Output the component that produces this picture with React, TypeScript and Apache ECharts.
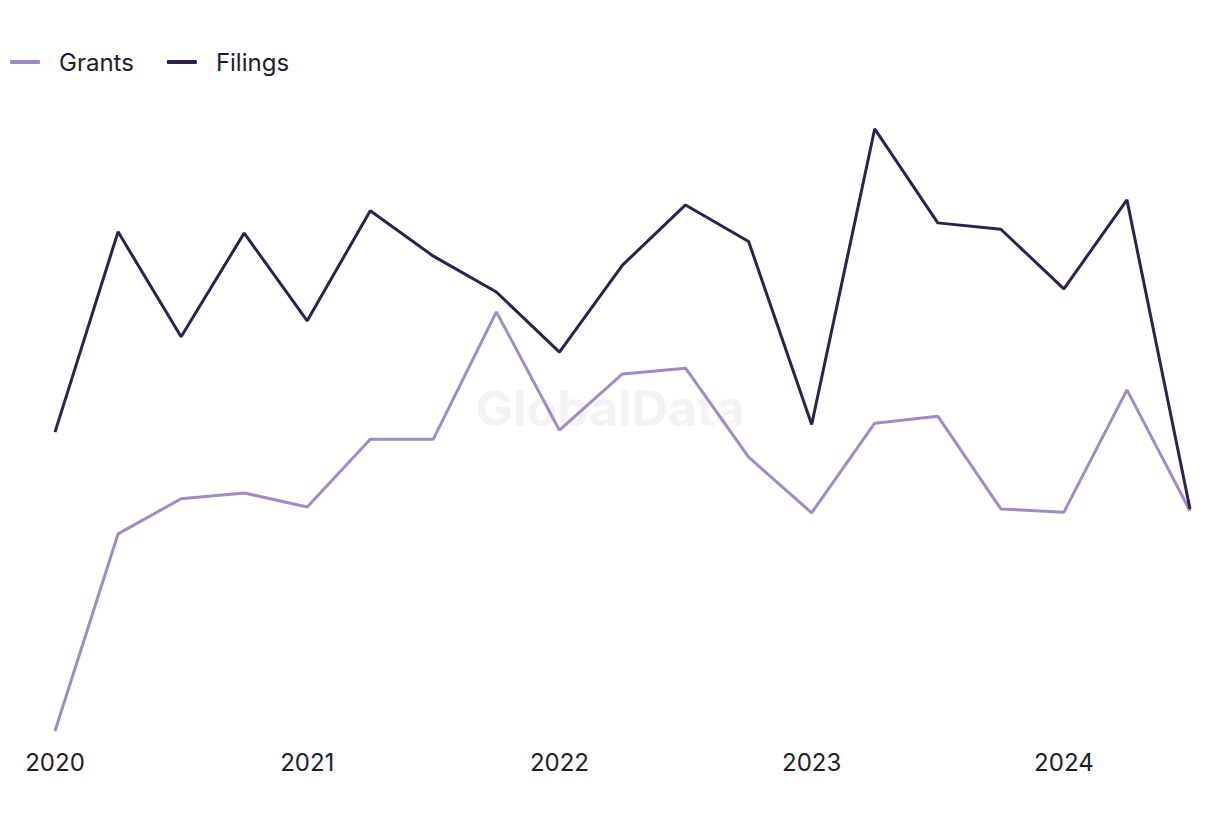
import React, { useEffect, useRef } from "react";
import * as echarts from "echarts";

const quarters = [
  "2020 Q1", "2020 Q2", "2020 Q3", "2020 Q4",
  "2021 Q1", "2021 Q2", "2021 Q3", "2021 Q4",
  "2022 Q1", "2022 Q2", "2022 Q3", "2022 Q4",
  "2023 Q1", "2023 Q2", "2023 Q3", "2023 Q4",
  "2024 Q1", "2024 Q2", "2024 Q3",
];

const grants = [1.4, 32.2, 37.7, 38.6, 36.4, 47.0, 47.0, 66.9, 48.4, 57.2, 58.1, 44.2, 35.5, 49.5, 50.6, 36.1, 35.6, 54.7, 35.8];
const filings = [48.1, 79.4, 63.0, 79.2, 65.5, 82.7, 75.6, 70.0, 60.6, 74.2, 83.6, 77.9, 49.3, 95.5, 80.8, 79.8, 70.5, 84.4, 36.1];

const GRANTS_COLOR = "#a08bc7";
const FILINGS_COLOR = "#2e2050";
const TEXT_COLOR = "#1c1b2e";

export default function App() {
  const ref = useRef<HTMLDivElement>(null);

  useEffect(() => {
    if (!ref.current) return;
    const chart = echarts.init(ref.current, null, { renderer: "svg" });
    chart.setOption({
      animation: false,
      backgroundColor: "#ffffff",
      legend: {
        left: 5,
        top: 45,
        itemWidth: 30,
        itemHeight: 4,
        itemGap: 33,
        icon: "roundRect",
        textStyle: { fontSize: 24, color: TEXT_COLOR, fontFamily: "Inter", padding: [0, 0, 0, 14] },
        data: ["Grants", "Filings"],
      },
      graphic: [
        {
          type: "text",
          left: "center",
          top: 383,
          z: -1,
          style: {
            text: "GlobalData",
            fontSize: 50,
            fontWeight: "bold",
            fontFamily: "Inter",
            fill: "#f3f3f3",
          },
        },
      ],
      grid: { left: 55, right: 30, top: 100, bottom: 80 },
      xAxis: {
        type: "category",
        data: quarters,
        boundaryGap: false,
        axisLine: { show: false },
        axisTick: { show: false },
        axisLabel: {
          interval: (idx: number) => idx % 4 === 0,
          formatter: (v: string) => v.slice(0, 4),
          fontSize: 24,
          color: TEXT_COLOR,
          fontFamily: "Inter",
          margin: 10,
        },
        splitLine: { show: false },
      },
      yAxis: {
        type: "value",
        min: 0,
        max: 100,
        show: false,
      },
      series: [
        {
          name: "Grants",
          type: "line",
          data: grants,
          symbol: "none",
          lineStyle: { width: 3, color: GRANTS_COLOR },
          itemStyle: { color: GRANTS_COLOR },
        },
        {
          name: "Filings",
          type: "line",
          data: filings,
          symbol: "none",
          lineStyle: { width: 3, color: FILINGS_COLOR },
          itemStyle: { color: FILINGS_COLOR },
        },
      ],
    });
    return () => chart.dispose();
  }, []);

  return (
    <div
      ref={ref}
      style={{ position: "fixed", left: 0, top: 0, width: 1220, height: 820, background: "#fff" }}
    />
  );
}
